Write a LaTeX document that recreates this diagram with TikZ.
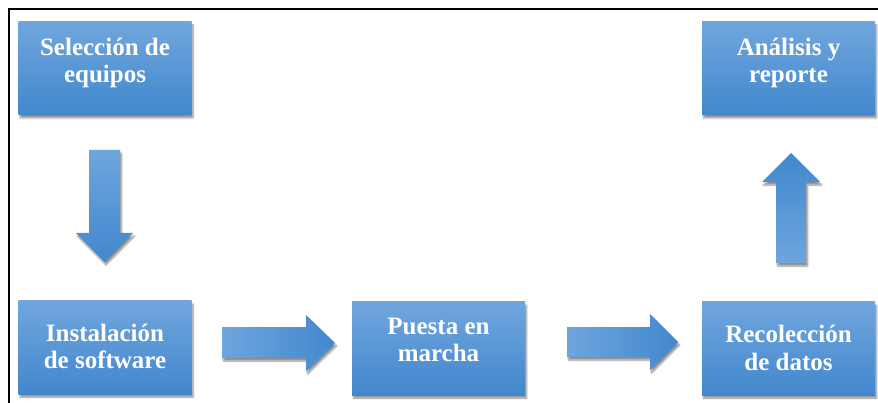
\documentclass[tikz,border=0pt]{standalone}
\usepackage{fontspec}
\setmainfont{Liberation Serif}
\newfontfamily\boxfont{Liberation Serif}[BoldFont={Liberation Serif Bold}]
\usetikzlibrary{shadows.blur}
\definecolor{boxtop}{RGB}{112,166,221}
\definecolor{boxbot}{RGB}{66,135,205}
\definecolor{arrlight}{RGB}{110,165,221}
\definecolor{arrdark}{RGB}{66,136,206}
\tikzset{
  stepbox/.style={draw=none, rectangle, minimum width=173pt, minimum height=93pt,
    top color=boxtop, bottom color=boxbot, inner sep=0pt,
    blur shadow={shadow xshift=1.5pt, shadow yshift=-3pt, shadow blur steps=6, shadow opacity=45}},
  boxtext/.style={anchor=base, align=center, text=white, inner sep=0pt,
    font=\boxfont\bfseries\fontsize{25}{27.5}\selectfont},
  blockarrow/.style={draw=none,
    blur shadow={shadow xshift=1.5pt, shadow yshift=-3pt, shadow blur steps=6, shadow opacity=45}},
}
\begin{document}
\begin{tikzpicture}[x=1pt,y=-1pt]
\useasboundingbox (0,0) rectangle (878,403);
% frame (top and left)
\draw[line width=2pt] (878,9) -- (9,9) -- (9,403);

% boxes
\node[stepbox] (sel) at (105,68.5) {};
\node[stepbox] (ana) at (788.5,68.5) {};
\node[stepbox] (ins) at (105,347.5) {};
\node[stepbox] (pue) at (438.5,348.5) {};
\node[stepbox] (rec) at (788.5,348.5) {};

% texts (anchor base = baseline of the last line)
\node[boxtext] (tsel) at (105,83) {Selección de\\equipos};
\node[boxtext] (tana) at (788.5,83) {Análisis y\\reporte};
\node[boxtext] (tins) at (105,368.5) {Instalación\\de software};
\node[boxtext] (tpue) at (438.5,361.5) {Puesta en\\marcha};
\node[boxtext] (trec) at (788.5,370) {Recolección\\de datos};

% down arrow
\path[blockarrow, top color=arrlight, bottom color=arrdark]
  (89,150) -- (120,150) -- (120,233) -- (133,233) -- (104.5,262) -- (76,233) -- (89,233) -- cycle;
% up arrow
\path[blockarrow, top color=arrdark, bottom color=arrlight]
  (776,263) -- (806,263) -- (806,182) -- (820,182) -- (791,153) -- (762,182) -- (776,182) -- cycle;
% right arrow 1
\path[blockarrow, left color=arrlight, right color=arrdark]
  (222,327) -- (306,327) -- (306,315) -- (335,343) -- (306,371) -- (306,358) -- (222,358) -- cycle;
% right arrow 2
\path[blockarrow, left color=arrlight, right color=arrdark]
  (567,327) -- (650,327) -- (650,314) -- (678,342) -- (650,370) -- (650,357) -- (567,357) -- cycle;
\end{tikzpicture}
\end{document}
